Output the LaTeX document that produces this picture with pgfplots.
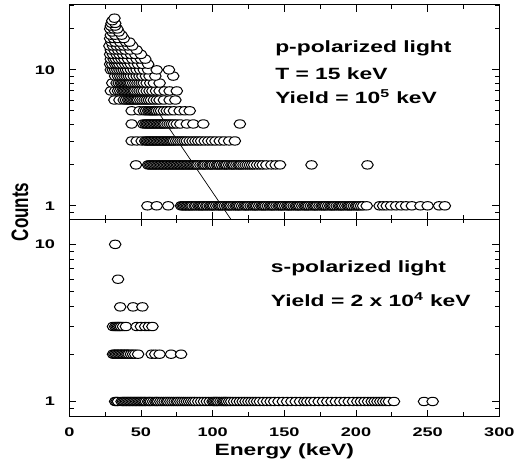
\documentclass[border=0pt]{standalone}
\usepackage{fontspec}
\setmainfont{Liberation Sans}
\usepackage{pgfplots}
\pgfplotsset{compat=1.18}
\newcommand{\tickfont}{\fontsize{12.5}{15}\selectfont\bfseries}
\newcommand{\txtfont}{\fontsize{16.3}{19}\selectfont\bfseries}
\pgfplotsset{
  pts/.style={only marks, mark=*, mark size=4.2pt,
    mark options={fill=white, draw=black, line width=1pt, xscale=1.38}},
}
\begin{document}
\begin{tikzpicture}[x=1pt,y=1pt]
\path[use as bounding box] (0,0) rectangle (518,469);
% ---------------- upper panel ----------------
\begin{axis}[ymode=log,
    anchor=south west, scale only axis, width=430pt,
    xmin=0, xmax=300,
    xtick={0,50,...,300}, minor x tick num=1,
    ytick={1,10}, yticklabels={1,10},
    minor ytick={0.8,0.9,2,3,4,5,6,7,8,9,20,30},
    tick align=inside, tick pos=both,
    major tick length=7pt, minor tick length=4.5pt,
    axis line style={line width=1pt},
    tick style={black, line width=0.9pt},
    /pgf/number format/assume math mode=true,
    tick label style={font=\tickfont},
    yticklabel style={anchor=east, inner sep=0pt, xshift=-14pt, xscale=1.45},
    xticklabel style={anchor=north, inner sep=0pt, yshift=-11pt, xscale=1.45},
    at={(69.3pt,250pt)}, height=214pt, ymin=0.8, ymax=30,
    xticklabels={}]
\addplot[pts] coordinates {(54.5,1)(61,1)(69,1)(78,1)(79,1)(80,1)(81,1)(82,1)(83,1)(84,1)(85,1)(86,1)(87.5,1)(88.5,1)(90,1)(91,1)(92,1)(93,1)(94,1)(95.5,1)(96.5,1)(98,1)(99,1)(100,1)(101,1)(102.5,1)(104,1)(105,1)(106,1)(107,1)(108.5,1)(110,1)(111,1)(112,1)(113,1)(114.5,1)(116,1)(117,1)(118,1)(119,1)(120.5,1)(122,1)(123,1)(124,1)(125,1)(126.5,1)(128,1)(129,1)(130,1)(131,1)(132.5,1)(134,1)(135,1)(136,1)(137,1)(138.5,1)(140,1)(141,1)(142,1)(143,1)(144.5,1)(146,1)(147,1)(148,1)(149,1)(150.5,1)(152,1)(153,1)(154,1)(155,1)(156.5,1)(158,1)(159,1)(160,1)(161,1)(162.5,1)(164,1)(165,1)(166,1)(167,1)(168.5,1)(170,1)(171,1)(172,1)(173,1)(174.5,1)(176,1)(177,1)(178,1)(179,1)(180.5,1)(182,1)(183,1)(184,1)(185,1)(186.5,1)(188,1)(189,1)(190,1)(191,1)(192.5,1)(194,1)(195,1)(196,1)(197,1)(198.5,1)(200,1)(201,1)(202,1)(203.5,1)(205,1)(207.5,1)(216.5,1)(219,1)(221.5,1)(224.5,1)(228,1)(231.5,1)(235,1)(239,1)(245,1)(250,1)(258,1)(262,1)};
\addplot[pts] coordinates {(46.5,2)(55,2)(56,2)(57,2)(58,2)(59,2)(60,2)(61,2)(62,2)(63,2)(64,2)(65,2)(66,2)(67,2)(68,2)(69,2)(70,2)(71,2)(72,2)(73,2)(74,2)(75,2)(76,2)(77,2)(78,2)(79,2)(80,2)(81,2)(82,2)(83,2)(84,2)(85,2)(86,2)(87,2)(88,2)(89,2)(90,2)(91.5,2)(93,2)(94,2)(95,2)(96.5,2)(98,2)(99,2)(100,2)(101.5,2)(103,2)(104,2)(105,2)(106.5,2)(108,2)(109,2)(110,2)(111.5,2)(113,2)(114,2)(115,2)(116.5,2)(118,2)(119,2)(120,2)(121.5,2)(123,2)(124.5,2)(126,2)(127.5,2)(129,2)(131,2)(133,2)(135,2)(137.5,2)(141,2)(144,2)(147,2)(169,2)(208,2)};
\addplot[pts] coordinates {(43.5,3)(47,3)(50.5,3)(53,3)(54,3)(55,3)(56,3)(57,3)(58,3)(59,3)(60,3)(61,3)(62,3)(63,3)(64,3)(65,3)(66,3)(67,3)(68,3)(69,3)(70,3)(71,3)(72,3)(73,3)(74.5,3)(76,3)(77.5,3)(79,3)(80.5,3)(82,3)(84,3)(86,3)(88,3)(90,3)(92,3)(94.5,3)(97,3)(99.5,3)(102,3)(105,3)(108,3)(111.5,3)(115.5,3)};
\addplot[pts] coordinates {(43.5,4)(51.5,4)(53,4)(54,4)(55,4)(56,4)(57,4)(58,4)(59,4)(60,4)(61,4)(62,4)(63,4)(64,4)(65,4)(66,4)(67,4)(68.5,4)(70,4)(71.5,4)(73,4)(75,4)(77.5,4)(82,4)(86.5,4)(93.5,4)(119,4)};
\addplot[pts] coordinates {(43.5,5)(49,5)(52,5)(53.5,5)(55,5)(56,5)(57,5)(58,5)(59,5)(60,5)(61,5)(62.5,5)(64,5)(66,5)(68,5)(70,5)(73,5)(77,5)(80.5,5)(84,5)};
\addplot[pts] coordinates {(31.5,6)(35,6)(38,6)(39.5,6)(41,6)(42,6)(43,6)(44,6)(45,6)(46,6)(47,6)(48,6)(49.5,6)(51,6)(52.5,6)(54,6)(55.5,6)(57,6)(59,6)(61,6)(63,6)(66,6)(70,6)(74,6)};
\addplot[pts] coordinates {(29,7)(32,7)(34,7)(35.5,7)(37,7)(38,7)(39,7)(40,7)(41,7)(42,7)(43,7)(44,7)(45,7)(46,7)(47.5,7)(49,7)(50.5,7)(52,7)(54,7)(56,7)(58,7)(60.5,7)(63,7)(66.5,7)(70,7)(75,7)};
\addplot[pts] coordinates {(30,8)(33,8)(34.5,8)(36,8)(37,8)(38,8)(39,8)(40,8)(41,8)(42,8)(43,8)(44.5,8)(46,8)(47.5,8)(49,8)(50.5,8)(52,8)(54,8)(56.5,8)(59,8)(63,8)};
\addplot[pts] coordinates {(32,9)(34,9)(35.5,9)(37,9)(38.5,9)(40,9)(41.5,9)(43,9)(45,9)(47,9)(49,9)(51,9)(53.5,9)(56,9)(60,9)(72.5,9)};
\addplot[pts] coordinates {(29,10)(30.5,10)(32,10)(33.5,10)(35,10)(36.5,10)(38,10)(39.5,10)(41,10)(43,10)(45,10)(47,10)(49.5,10)(52,10)(55,10)(61,10)(69.5,10)};
\addplot[pts] coordinates {(28.5,11)(30,11)(32,11)(33.5,11)(35,11)(37,11)(39,11)(41,11)(43,11)(45.5,11)(48,11)(51,11)(55,11)};
\addplot[pts] coordinates {(29,12)(31,12)(32.5,12)(34.5,12)(36.5,12)(38.5,12)(41,12)(44,12)(47,12)(50,12)(53,12)};
\addplot[pts] coordinates {(28.5,13)(30.5,13)(33,13)(35,13)(37.5,13)(40,13)(43,13)(46,13)(50,13)};
\addplot[pts] coordinates {(29,14)(31.5,14)(34,14)(36.5,14)(39,14)(42.5,14)(47,14)};
\addplot[pts] coordinates {(28,15)(30.5,15)(33,15)(35.5,15)(38,15)(41,15)(44,15)};
\addplot[pts] coordinates {(29.5,16)(32,16)(35.5,16)(39.5,16)(42,16)};
\addplot[pts] coordinates {(28.5,17)(31,17)(34,17)(38,17)};
\addplot[pts] coordinates {(29,18)(32,18)(36.5,18)};
\addplot[pts] coordinates {(30,19)(34.5,19)};
\addplot[pts] coordinates {(28.5,20)(31,20)(33.5,20)};
\addplot[pts] coordinates {(29,21)(32,21)};
\addplot[pts] coordinates {(29.5,22)(32,22)};
\addplot[pts] coordinates {(30,23)};
\addplot[pts] coordinates {(31.5,24)};
% exponential fit line
\addplot[black, line width=0.7pt, no marks] coordinates {(59,5.45)(115,0.734)};
\end{axis}
% ---------------- lower panel ----------------
\begin{axis}[ymode=log,
    anchor=south west, scale only axis, width=430pt,
    xmin=0, xmax=300,
    xtick={0,50,...,300}, minor x tick num=1,
    ytick={1,10}, yticklabels={1,10},
    minor ytick={0.8,0.9,2,3,4,5,6,7,8,9,20,30},
    tick align=inside, tick pos=both,
    major tick length=7pt, minor tick length=4.5pt,
    axis line style={line width=1pt},
    tick style={black, line width=0.9pt},
    /pgf/number format/assume math mode=true,
    tick label style={font=\tickfont},
    yticklabel style={anchor=east, inner sep=0pt, xshift=-14pt, xscale=1.45},
    xticklabel style={anchor=north, inner sep=0pt, yshift=-11pt, xscale=1.45},
    at={(69.3pt,52.3pt)}, height=197.7pt, ymin=0.8, ymax=14.5]
\addplot[pts] coordinates {(32,1)(33,1)(34,1)(36.5,1)(37.5,1)(38.5,1)(39.5,1)(40.5,1)(41.5,1)(42.5,1)(43.5,1)(44.5,1)(45.5,1)(46.5,1)(47.5,1)(48.5,1)(49.5,1)(50.5,1)(51.5,1)(52.5,1)(53.5,1)(55,1)(56,1)(57,1)(58.5,1)(60,1)(61,1)(62,1)(63.5,1)(65,1)(66.5,1)(68,1)(69,1)(70.5,1)(72,1)(73.5,1)(75,1)(76,1)(77.5,1)(79,1)(80.5,1)(82,1)(83.5,1)(85,1)(86.5,1)(88,1)(90,1)(92,1)(94,1)(96,1)(98,1)(100,1)(101,1)(102,1)(103,1)(104,1)(105.5,1)(107,1)(108,1)(109,1)(110,1)(111.5,1)(113,1)(115,1)(117,1)(119,1)(121,1)(123,1)(125,1)(127,1)(129,1)(131,1)(133,1)(135.5,1)(138,1)(140.5,1)(143,1)(146,1)(149,1)(152,1)(155,1)(158,1)(161,1)(164,1)(166,1)(168.5,1)(171,1)(174,1)(177,1)(180,1)(183,1)(186,1)(189,1)(192,1)(195,1)(198,1)(201,1)(203.5,1)(206,1)(208.5,1)(211,1)(213,1)(215,1)(217,1)(219,1)(221,1)(223,1)(226.5,1)(247.5,1)(253.5,1)};
\addplot[pts] coordinates {(30.5,2)(31.5,2)(32.5,2)(33.5,2)(34.5,2)(35.5,2)(36.5,2)(37.5,2)(38.5,2)(39.5,2)(40.5,2)(41.5,2)(43,2)(44.5,2)(46,2)(48,2)(57.5,2)(60,2)(63,2)(71,2)(78,2)};
\addplot[pts] coordinates {(30.5,3)(32,3)(33,3)(34,3)(35,3)(36,3)(37.5,3)(39.5,3)(47,3)(50,3)(53,3)(55.5,3)(58,3)};
\addplot[pts] coordinates {(35.5,4)(44.5,4)(51,4)};
\addplot[pts] coordinates {(34,6)};
\addplot[pts] coordinates {(32,10)};
\end{axis}
% ---------------- texts ----------------
\node[anchor=west, inner sep=0pt, xscale=1.4, font=\txtfont] at (275,421) {p-polarized light};
\node[anchor=west, inner sep=0pt, xscale=1.4, font=\txtfont] at (275,395) {T = 15 keV};
\node[anchor=west, inner sep=0pt, xscale=1.4, font=\txtfont] at (275,372) {Yield = 10\textsuperscript{5} keV};
\node[anchor=west, inner sep=0pt, xscale=1.4, font=\txtfont] at (270.7,201) {s-polarized light};
\node[anchor=west, inner sep=0pt, xscale=1.4, font=\txtfont] at (270.7,169) {Yield = 2 x 10\textsuperscript{4} keV};
\node[inner sep=0pt, xscale=1.4, font=\txtfont] at (284.3,18) {Energy (keV)};
\node[inner sep=0pt, xscale=1.4, rotate=90, font=\fontsize{17}{20}\selectfont\bfseries] at (20,257) {Counts};
\end{tikzpicture}
\end{document}
